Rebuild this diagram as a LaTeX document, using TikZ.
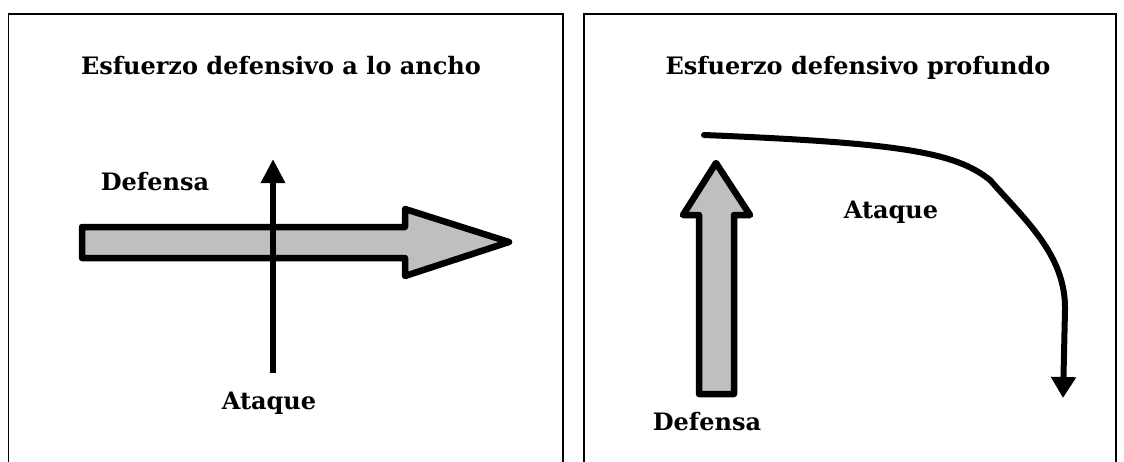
\documentclass[tikz,border=0pt]{standalone}
\usepackage{fontspec}
\setmainfont{DejaVu Serif}
\usetikzlibrary{arrows.meta}
\begin{document}
\begin{tikzpicture}[x=1pt,y=-1pt,
  panel/.style={draw=black, line width=1.3pt},
  lbl/.style={font=\bfseries\fontsize{24}{26}\selectfont, inner sep=0pt, anchor=base},
  fat/.style={draw=black, fill=black!25, line width=6.5pt, line join=round},
  thinarrow/.style={line width=6.5pt, -{Triangle[length=24pt,width=23pt]}}
]
\useasboundingbox (0,0) rectangle (1124,461);
\fill[white] (0,0) rectangle (1124,461);
% panels
\draw[panel] (8.5,470) -- (8.5,14) -- (563,14) -- (563,470);
\draw[panel] (584,470) -- (584,14) -- (1116,14) -- (1116,470);
% titles
\node[lbl] (t1) at (281,74) {Esfuerzo defensivo a lo ancho};
\node[lbl] (t2) at (858,74) {Esfuerzo defensivo profundo};
% left panel
\draw[fat] (82,227) -- (405,227) -- (405,209) -- (509,242) -- (405,276) -- (405,258) -- (82,258) -- cycle;
\coordinate (vb) at (273,373);
\coordinate (vt) at (273,159);
\draw[thinarrow] (vb) -- (vt);
\node[lbl] (d1) at (155,190) {Defensa};
\node[lbl] (a1) at (269,409) {Ataque};
% right panel
\draw[fat] (699,394) -- (699,215) -- (683,215) -- (716,163) -- (750,215) -- (734,215) -- (734,394) -- cycle;
\coordinate (cs) at (704,135);
\coordinate (cm) at (990,180);
\coordinate (ce) at (1063,398);
\draw[line width=6pt, line cap=round] (cs) .. controls (900,143) and (955,152) .. (cm);
\draw[line width=6pt, -{Triangle[length=21pt,width=24pt]}] (cm) .. controls (1025,220) and (1066,255) .. (1065,310) -- (ce);
\node[lbl] (a2) at (891,218) {Ataque};
\node[lbl] (d2) at (707,430) {Defensa};
\end{tikzpicture}
\end{document}
